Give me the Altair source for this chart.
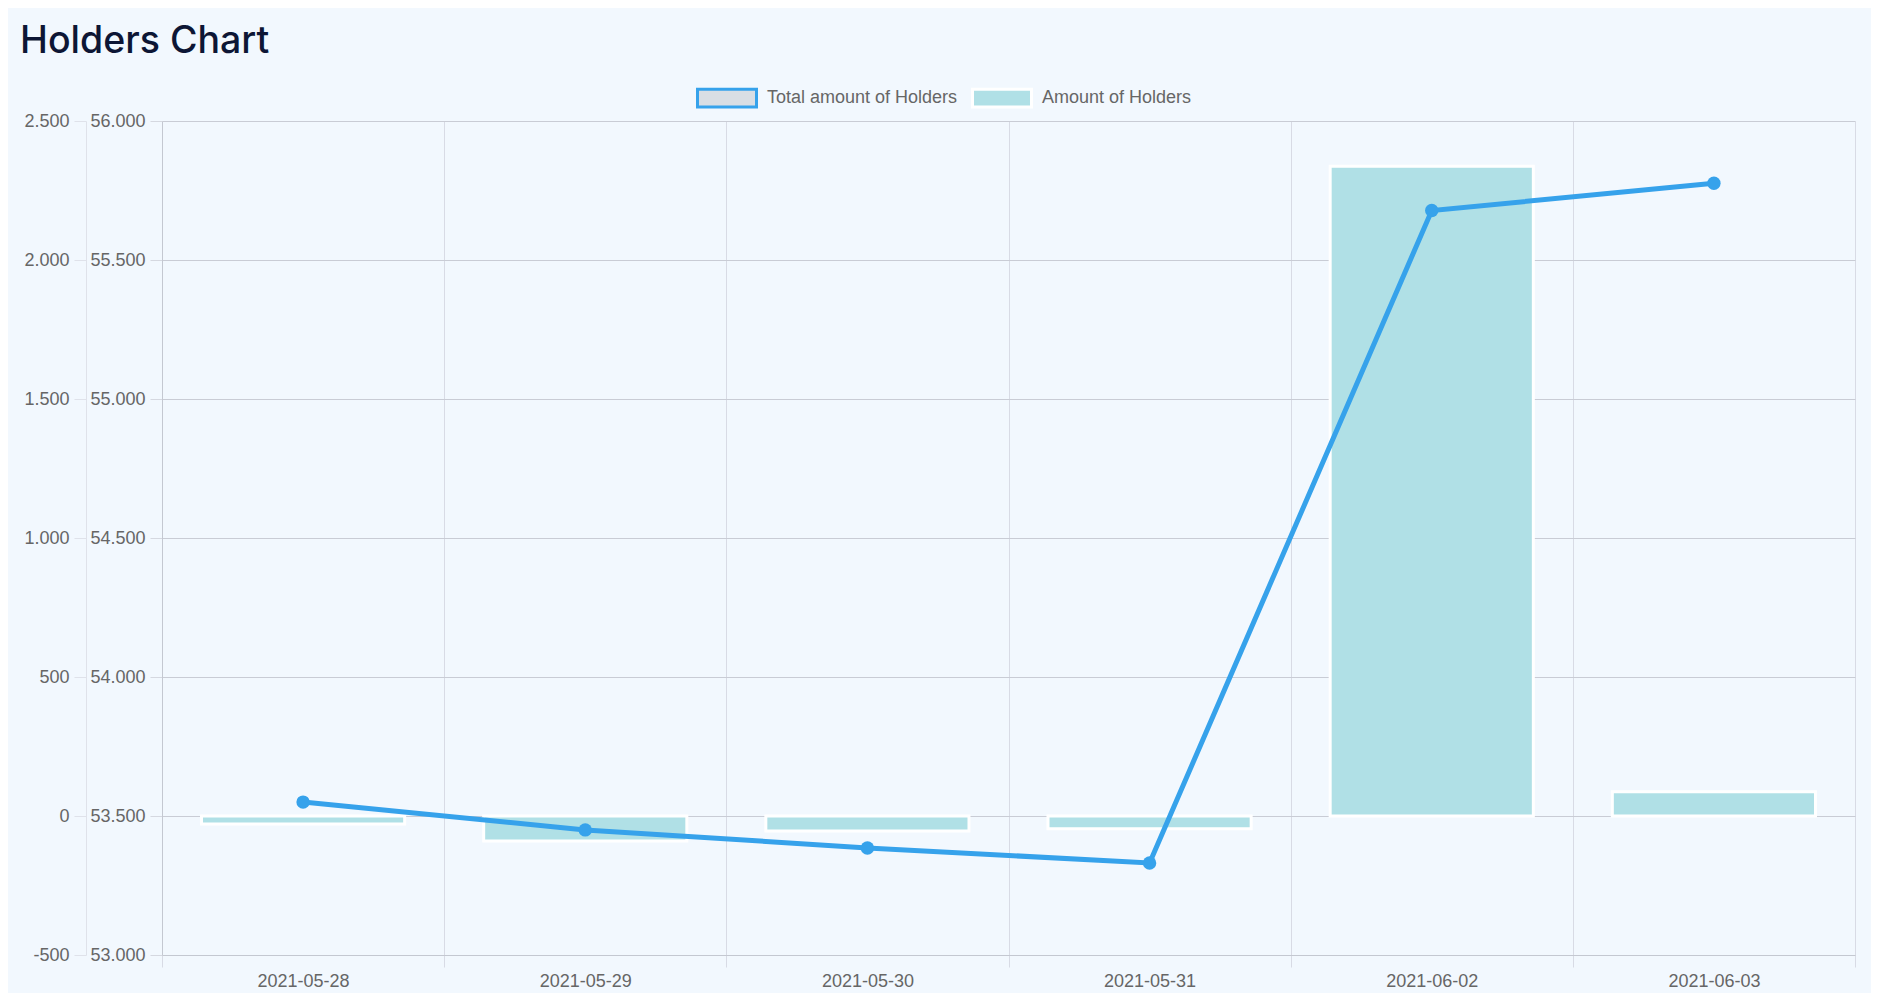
import altair as alt
import pandas as pd

# ---- data ----
dates = ["2021-05-28", "2021-05-29", "2021-05-30", "2021-05-31", "2021-06-02", "2021-06-03"]
amount_of_holders = [-29, -90, -54, -46, 2337, 87]
total_holders = [53550, 53450, 53385, 53331, 55678, 55776]
series_names = ["Total amount of Holders", "Amount of Holders"]
amount_ticks = [-500, 0, 500, 1000, 1500, 2000, 2500]
total_ticks = [53000, 53500, 54000, 54500, 55000, 55500, 56000]

bars_df = pd.DataFrame({"date": dates, "value": amount_of_holders, "series": series_names[1]})
line_df = pd.DataFrame({"date": dates, "value": total_holders, "series": series_names[0]})

BLUE = "#36a2eb"
BAR = "#b0e0e6"
LEGEND_GRAY = "#d9dee4"
BG = "#f2f8fe"
LABEL = "#666666"
FONT = "Liberation Sans"
FS = 18
GRID_H = "#c9ccd5"
GRID_V = "#d8dbe5"

label_expr = "replace(replace(format(datum.value, ','), ',', '.'), '\u2212', '-')"

x_enc = alt.X(
    "date:N", sort=dates, title=None,
    scale=alt.Scale(paddingInner=0, paddingOuter=0),
    axis=alt.Axis(labelAngle=0, tickBand="extent", grid=True, gridColor=GRID_V,
                  tickColor=GRID_V, tickSize=12, domainColor="#c4c8d1",
                  labelPadding=5, labelFontSize=FS, labelColor=LABEL, labelFont=FONT),
)

leg = alt.Legend(
    title=None, orient="none", legendX=534, legendY=-54, direction="horizontal",
    symbolType="M-1,-0.3H1V0.3H-1Z", symbolSize=3481, symbolStrokeWidth=3,
    labelFont=FONT, labelFontSize=FS, labelColor=LABEL, labelOffset=9, labelLimit=500,
    columnPadding=8, padding=0,
)

bars = alt.Chart(bars_df).mark_bar(width=alt.RelativeBandSize(0.72), strokeWidth=3).encode(
    x=x_enc,
    y=alt.Y("value:Q", title=None,
            scale=alt.Scale(domain=[-500, 2500], nice=False, zero=False),
            axis=alt.Axis(orient="left", offset=76, values=amount_ticks, grid=False,
                          tickSize=12, tickColor="#dfe2ea", domainColor="#dfe2ea",
                          labelPadding=5, labelExpr=label_expr, labelFont=FONT,
                          labelFontSize=FS, labelColor=LABEL)),
    fill=alt.Fill("series:N", scale=alt.Scale(domain=series_names, range=[LEGEND_GRAY, BAR]), legend=leg),
    stroke=alt.Stroke("series:N", scale=alt.Scale(domain=series_names, range=[BLUE, "#ffffff"]), legend=leg),
)

y_total = alt.Y("value:Q", title=None,
                scale=alt.Scale(domain=[53000, 56000], nice=False, zero=False),
                axis=alt.Axis(orient="left", offset=0, values=total_ticks, grid=True,
                              gridColor=GRID_H, tickSize=12, tickColor="#d5d8e0",
                              domainColor="#c4c8d1", labelPadding=5, labelExpr=label_expr,
                              labelFont=FONT, labelFontSize=FS, labelColor=LABEL))

line = alt.Chart(line_df).mark_line(color=BLUE, strokeWidth=5).encode(x=x_enc, y=y_total)
points = alt.Chart(line_df).mark_circle(color=BLUE, size=180, opacity=1).encode(x=x_enc, y=y_total)

chart = alt.layer(bars, alt.layer(line, points)).resolve_scale(y="independent").properties(
    width=1693, height=834, background=BG,
    padding={"left": 154, "top": 113, "right": 16, "bottom": 38},
    autosize=alt.AutoSizeParams(type="none"),
    title=alt.TitleParams("Holders Chart", anchor="start", frame="group", dx=-142, dy=53,
                          font="Inter", fontSize=37.5, fontWeight=500, color="#0d1635",
                          baseline="alphabetic", offset=30),
).configure_view(stroke=None)

chart.save("out.html", embed_options={"renderer": "svg", "actions": False})
